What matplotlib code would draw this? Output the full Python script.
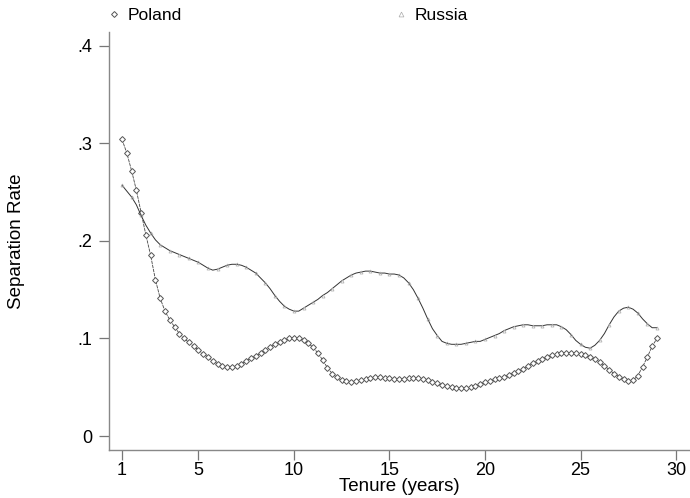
import numpy as np
import matplotlib.pyplot as plt
from matplotlib.lines import Line2D
from matplotlib.ticker import FuncFormatter

plt.rcParams['font.family'] = ['Liberation Sans', 'DejaVu Sans']

# tenure grid, quarter-year steps
tenure = np.arange(1, 29.001, 0.25)

poland = [
    0.304, 0.290, 0.272, 0.252,   # 1
    0.229, 0.206, 0.185, 0.160,   # 2
    0.141, 0.128, 0.119, 0.112,   # 3
    0.105, 0.100, 0.096, 0.092,   # 4
    0.088, 0.084, 0.081, 0.077,   # 5
    0.074, 0.072, 0.071, 0.071,   # 6
    0.072, 0.074, 0.077, 0.080,   # 7
    0.082, 0.085, 0.088, 0.091,   # 8
    0.094, 0.096, 0.098, 0.100,   # 9
    0.100, 0.100, 0.098, 0.095,   # 10
    0.091, 0.085, 0.078, 0.070,   # 11
    0.064, 0.060, 0.057, 0.056,   # 12
    0.0555, 0.056, 0.057, 0.058,  # 13
    0.059, 0.060, 0.060, 0.059,   # 14
    0.059, 0.058, 0.058, 0.058,   # 15
    0.059, 0.059, 0.059, 0.058,   # 16
    0.057, 0.055, 0.054, 0.052,   # 17
    0.051, 0.050, 0.049, 0.049,   # 18
    0.049, 0.050, 0.051, 0.053,   # 19
    0.055, 0.056, 0.058, 0.059,   # 20
    0.061, 0.063, 0.065, 0.067,   # 21
    0.069, 0.072, 0.075, 0.077,   # 22
    0.079, 0.081, 0.083, 0.084,   # 23
    0.085, 0.0855, 0.0855, 0.085, # 24
    0.084, 0.083, 0.081, 0.079,   # 25
    0.076, 0.072, 0.068, 0.064,   # 26
    0.061, 0.058, 0.056, 0.057,   # 27
    0.062, 0.071, 0.081, 0.092,   # 28
    0.100,                        # 29
]

russia = [
    0.257, 0.251, 0.245, 0.237,   # 1
    0.226, 0.216, 0.208, 0.201,   # 2
    0.196, 0.193, 0.190, 0.188,   # 3
    0.186, 0.184, 0.182, 0.180,   # 4
    0.178, 0.175, 0.172, 0.170,   # 5
    0.171, 0.173, 0.175, 0.176,   # 6
    0.176, 0.175, 0.173, 0.170,   # 7
    0.167, 0.162, 0.157, 0.151,   # 8
    0.144, 0.138, 0.133, 0.130,   # 9
    0.128, 0.128, 0.131, 0.134,   # 10
    0.137, 0.140, 0.144, 0.147,   # 11
    0.151, 0.155, 0.159, 0.162,   # 12
    0.165, 0.167, 0.168, 0.169,   # 13
    0.169, 0.168, 0.167, 0.167,   # 14
    0.166, 0.166, 0.165, 0.162,   # 15
    0.157, 0.150, 0.141, 0.131,   # 16
    0.120, 0.110, 0.103, 0.097,   # 17
    0.095, 0.094, 0.094, 0.094,   # 18
    0.095, 0.096, 0.097, 0.097,   # 19
    0.099, 0.101, 0.103, 0.105,   # 20
    0.108, 0.110, 0.112, 0.113,   # 21
    0.114, 0.114, 0.113, 0.113,   # 22
    0.113, 0.114, 0.114, 0.114,   # 23
    0.112, 0.109, 0.104, 0.098,   # 24
    0.094, 0.091, 0.090, 0.093,   # 25
    0.098, 0.105, 0.114, 0.122,   # 26
    0.128, 0.131, 0.132, 0.130,   # 27
    0.126, 0.120, 0.115, 0.111,   # 28
    0.111,                        # 29
]

x_ticks = [1, 5, 10, 15, 20, 25, 30]
y_ticks = [0, 0.1, 0.2, 0.3, 0.4]

fig = plt.figure(figsize=(6.9, 4.98), dpi=100)
ax = fig.add_axes([0.158, 0.0964, 0.8406, 0.8393])

pol_style = dict(marker='D', ms=3.0, mfc='white', mec='#555555', mew=0.7)
rus_style = dict(marker='^', ms=2.2, mfc='none', mec='#aaaaaa', mew=0.5)

ax.plot(tenure, poland, color='#444444', lw=0.6, ls=(0, (4, 1)),
        **pol_style)
ax.plot(tenure, russia, color='#333333', lw=0.7, markevery=2,
        **rus_style)

ax.set_xlim(0.32, 30.68)
ax.set_ylim(-0.0143, 0.414)
ax.set_xticks(x_ticks)
ax.set_yticks(y_ticks)


def fmt(v, pos):
    if abs(v) < 1e-9:
        return '0'
    return ('%.1f' % v).lstrip('0')


ax.yaxis.set_major_formatter(FuncFormatter(fmt))
ax.tick_params(axis='both', direction='out', length=7, width=0.9,
               color='#777777', labelsize=13, labelcolor='black', pad=2)
ax.tick_params(axis='y', pad=5)

for side in ['top', 'right']:
    ax.spines[side].set_visible(False)
for side in ['left', 'bottom']:
    ax.spines[side].set_color('#888888')
    ax.spines[side].set_linewidth(1.0)

ax.set_xlabel('Tenure (years)', fontsize=13.5, labelpad=-1)
ax.set_ylabel('Separation Rate', fontsize=13.5, labelpad=38)

handles = [Line2D([], [], ls='none', **pol_style),
           Line2D([], [], ls='none', **dict(rus_style, ms=3.5))]
fig.legend(handles, ['Poland', 'Russia'], loc='upper left',
           bbox_to_anchor=(0.135, 1.015), ncol=2, frameon=False,
           fontsize=12.5, handlelength=0.6, handletextpad=0.5,
           columnspacing=12.3)

fig.savefig('out.png', dpi=100)
